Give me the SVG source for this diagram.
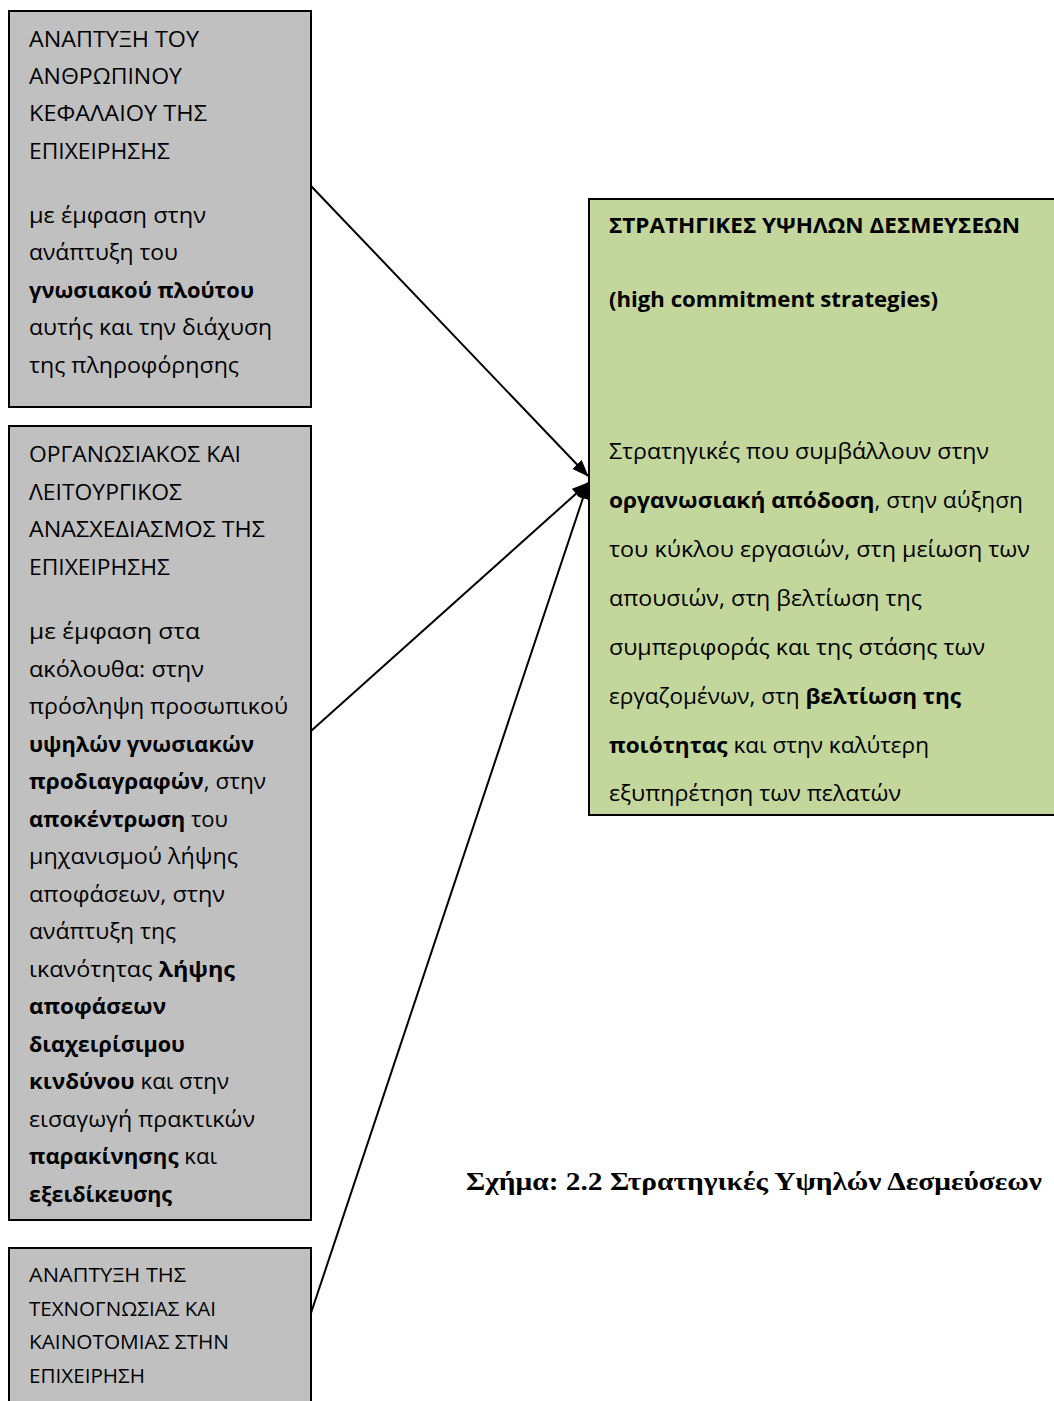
<svg xmlns="http://www.w3.org/2000/svg" width="1054" height="1401" viewBox="0 0 1054 1401">
  <style>
    .box { fill: #c0c0c0; stroke: #000; stroke-width: 2; }
    .goal { fill: #c3d69b; stroke: #000; stroke-width: 2; }
    .t { font-family: "Open Sans", "Noto Sans", "Liberation Sans", sans-serif; font-size: 22px; fill: #000; }
    .s { font-size: 19.5px; }
    .h { font-size: 21px; }
    .b { font-weight: bold; }
    .cap { font-family: "Liberation Serif", "DejaVu Serif", serif; font-size: 26px; font-weight: bold; fill: #000; }
    .edge { stroke: #000; stroke-width: 2; fill: none; marker-end: url(#head); }
  </style>
  <defs>
    <marker id="head" markerWidth="17" markerHeight="13" refX="16" refY="6.5" orient="auto" markerUnits="userSpaceOnUse">
      <path d="M0,0 L17,6.5 L0,13 Z" fill="#000"/>
    </marker>
  </defs>
  <rect width="1054" height="1401" fill="#fff"/>

  <!-- human capital -->
  <g id="node-human-capital">
    <rect class="box" x="9" y="11" width="302" height="396"/>
    <text class="t" x="29" y="46.5" textLength="170" lengthAdjust="spacingAndGlyphs">ΑΝΑΠΤΥΞΗ ΤΟΥ</text>
    <text class="t" x="29" y="84" textLength="153" lengthAdjust="spacingAndGlyphs">ΑΝΘΡΩΠΙΝΟΥ</text>
    <text class="t" x="29" y="121" textLength="178" lengthAdjust="spacingAndGlyphs">ΚΕΦΑΛΑΙΟΥ ΤΗΣ</text>
    <text class="t" x="29" y="158.5" textLength="141" lengthAdjust="spacingAndGlyphs">ΕΠΙΧΕΙΡΗΣΗΣ</text>
    <text class="t" x="29" y="223" textLength="177" lengthAdjust="spacingAndGlyphs">με έμφαση στην</text>
    <text class="t" x="29" y="260" textLength="149" lengthAdjust="spacingAndGlyphs">ανάπτυξη του</text>
    <text class="t b" x="29" y="297.5" textLength="225" lengthAdjust="spacingAndGlyphs">γνωσιακού πλούτου</text>
    <text class="t" x="29" y="335" textLength="243" lengthAdjust="spacingAndGlyphs">αυτής και την διάχυση</text>
    <text class="t" x="29" y="372.5" textLength="210" lengthAdjust="spacingAndGlyphs">της πληροφόρησης</text>
  </g>

  <!-- organisational redesign -->
  <g id="node-redesign">
    <rect class="box" x="9" y="426" width="302" height="794"/>
    <text class="t" x="29" y="462" textLength="212" lengthAdjust="spacingAndGlyphs">ΟΡΓΑΝΩΣΙΑΚΟΣ ΚΑΙ</text>
    <text class="t" x="29" y="499.5" textLength="153" lengthAdjust="spacingAndGlyphs">ΛΕΙΤΟΥΡΓΙΚΟΣ</text>
    <text class="t" x="29" y="537" textLength="236" lengthAdjust="spacingAndGlyphs">ΑΝΑΣΧΕΔΙΑΣΜΟΣ ΤΗΣ</text>
    <text class="t" x="29" y="574.5" textLength="141" lengthAdjust="spacingAndGlyphs">ΕΠΙΧΕΙΡΗΣΗΣ</text>
    <text class="t" x="29" y="639" textLength="171" lengthAdjust="spacingAndGlyphs">με έμφαση  στα</text>
    <text class="t" x="29" y="676.5" textLength="175" lengthAdjust="spacingAndGlyphs">ακόλουθα: στην</text>
    <text class="t" x="29" y="714" textLength="259" lengthAdjust="spacingAndGlyphs">πρόσληψη προσωπικού</text>
    <text class="t b" x="29" y="751.5" textLength="225" lengthAdjust="spacingAndGlyphs">υψηλών γνωσιακών</text>
    <text class="t" x="29" y="789" textLength="237" lengthAdjust="spacingAndGlyphs"><tspan class="b">προδιαγραφών</tspan>, στην</text>
    <text class="t" x="29" y="826.5" textLength="199" lengthAdjust="spacingAndGlyphs"><tspan class="b">αποκέντρωση</tspan> του</text>
    <text class="t" x="29" y="864" textLength="209" lengthAdjust="spacingAndGlyphs">μηχανισμού λήψης</text>
    <text class="t" x="29" y="901.5" textLength="196" lengthAdjust="spacingAndGlyphs">αποφάσεων, στην</text>
    <text class="t" x="29" y="939" textLength="147" lengthAdjust="spacingAndGlyphs">ανάπτυξη της</text>
    <text class="t" x="29" y="976.5" textLength="206" lengthAdjust="spacingAndGlyphs">ικανότητας  <tspan class="b">λήψης</tspan></text>
    <text class="t b" x="29" y="1014" textLength="137" lengthAdjust="spacingAndGlyphs">αποφάσεων</text>
    <text class="t b" x="29" y="1051.5" textLength="156" lengthAdjust="spacingAndGlyphs">διαχειρίσιμου</text>
    <text class="t" x="29" y="1089" textLength="200" lengthAdjust="spacingAndGlyphs"><tspan class="b">κινδύνου</tspan> και στην</text>
    <text class="t" x="29" y="1126.5" textLength="226" lengthAdjust="spacingAndGlyphs">εισαγωγή πρακτικών</text>
    <text class="t" x="29" y="1164" textLength="188" lengthAdjust="spacingAndGlyphs"><tspan class="b">παρακίνησης</tspan> και</text>
    <text class="t b" x="29" y="1201.5" textLength="143" lengthAdjust="spacingAndGlyphs">εξειδίκευσης</text>
  </g>

  <!-- know-how and innovation -->
  <g id="node-knowhow">
    <rect class="box" x="9" y="1248" width="302" height="170"/>
    <text class="t s" x="29" y="1282" textLength="157" lengthAdjust="spacingAndGlyphs">ΑΝΑΠΤΥΞΗ  ΤΗΣ</text>
    <text class="t s" x="29" y="1315.5" textLength="187" lengthAdjust="spacingAndGlyphs">ΤΕΧΝΟΓΝΩΣΙΑΣ ΚΑΙ</text>
    <text class="t s" x="29" y="1349" textLength="200" lengthAdjust="spacingAndGlyphs">ΚΑΙΝΟΤΟΜΙΑΣ ΣΤΗΝ</text>
    <text class="t s" x="29" y="1383" textLength="116" lengthAdjust="spacingAndGlyphs">ΕΠΙΧΕΙΡΗΣΗ</text>
  </g>

  <!-- high commitment strategies -->
  <g id="node-strategies">
    <rect class="goal" x="589" y="199" width="480" height="616"/>
    <text class="t h b" x="609" y="233" textLength="411" lengthAdjust="spacingAndGlyphs">ΣΤΡΑΤΗΓΙΚΕΣ ΥΨΗΛΩΝ ΔΕΣΜΕΥΣΕΩΝ</text>
    <text class="t h b" x="609" y="307" textLength="329" lengthAdjust="spacingAndGlyphs">(high commitment strategies)</text>
    <text class="t" x="609" y="459" textLength="380" lengthAdjust="spacingAndGlyphs">Στρατηγικές που συμβάλλουν στην</text>
    <text class="t" x="609" y="508" textLength="414" lengthAdjust="spacingAndGlyphs"><tspan class="b">οργανωσιακή απόδοση</tspan>, στην αύξηση</text>
    <text class="t" x="609" y="557" textLength="421" lengthAdjust="spacingAndGlyphs">του κύκλου εργασιών, στη μείωση των</text>
    <text class="t" x="609" y="606" textLength="313" lengthAdjust="spacingAndGlyphs">απουσιών, στη βελτίωση της</text>
    <text class="t" x="609" y="655" textLength="376" lengthAdjust="spacingAndGlyphs">συμπεριφοράς και της στάσης των</text>
    <text class="t" x="609" y="704" textLength="352" lengthAdjust="spacingAndGlyphs">εργαζομένων, στη <tspan class="b">βελτίωση της</tspan></text>
    <text class="t" x="609" y="753" textLength="320" lengthAdjust="spacingAndGlyphs"><tspan class="b">ποιότητας</tspan> και στην καλύτερη</text>
    <text class="t" x="609" y="801" textLength="292" lengthAdjust="spacingAndGlyphs">εξυπηρέτηση των πελατών</text>
  </g>

  <!-- connectors -->
  <g id="connectors">
    <line class="edge" x1="311" y1="186" x2="588" y2="476"/>
    <line class="edge" x1="311" y1="731" x2="588" y2="483"/>
    <line class="edge" x1="311" y1="1313" x2="588" y2="483"/>
  </g>

  <text class="cap" x="466" y="1190" textLength="576" lengthAdjust="spacingAndGlyphs">Σχήμα: 2.2 Στρατηγικές Υψηλών Δεσμεύσεων</text>
</svg>
